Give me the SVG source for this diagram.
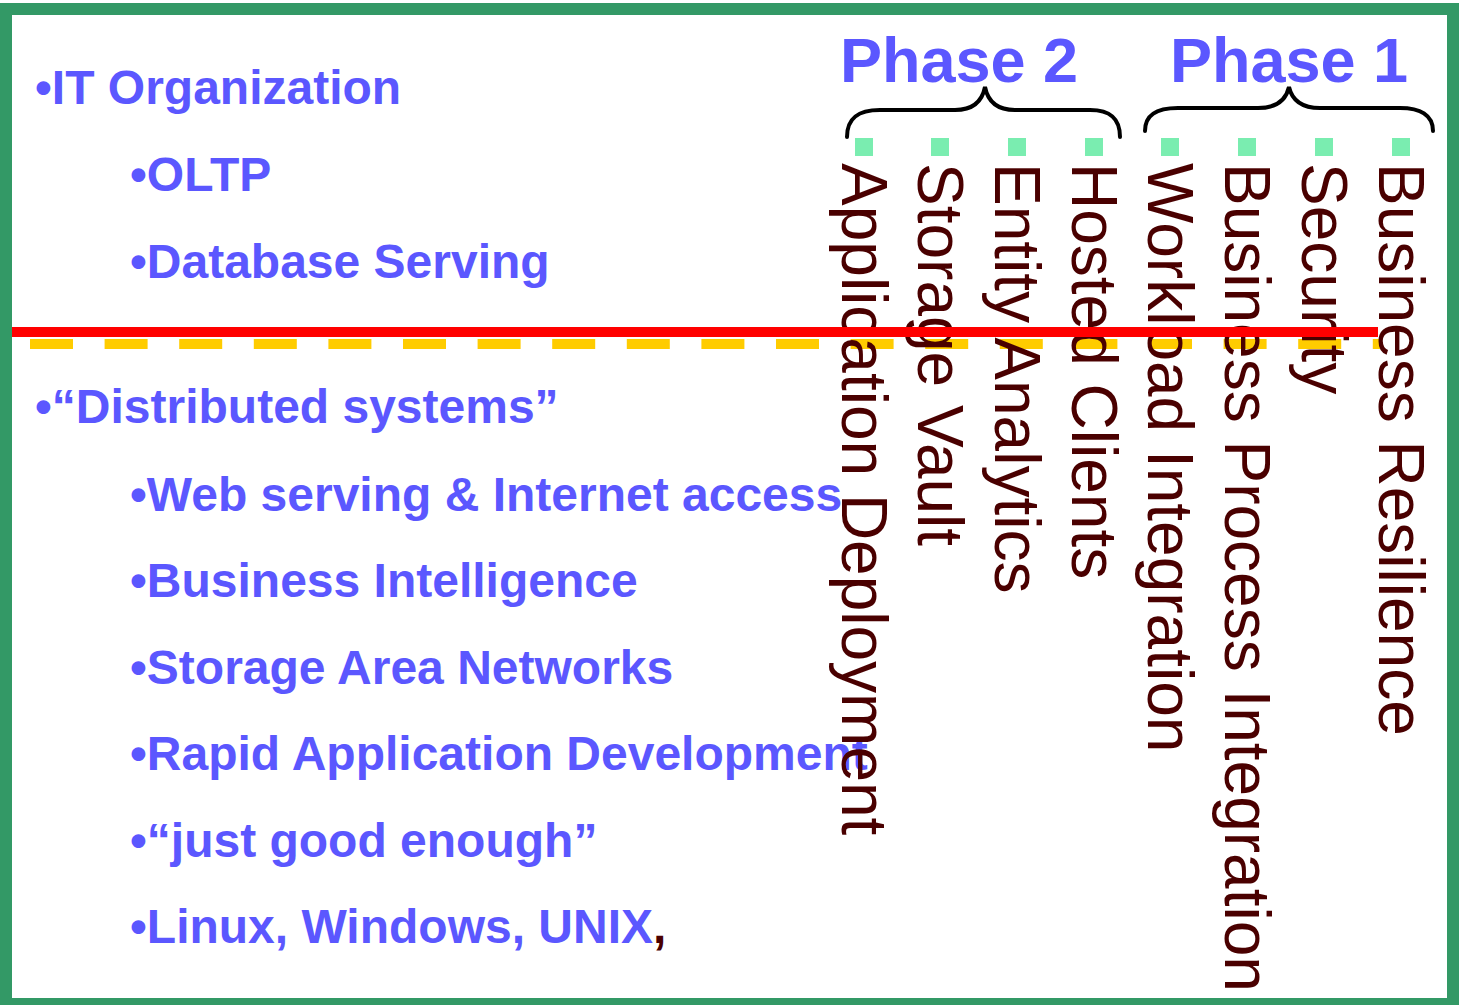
<svg xmlns="http://www.w3.org/2000/svg" width="1459" height="1005" viewBox="0 0 1459 1005">
  <style>
    .item { font-family: "Liberation Sans", Arial, sans-serif; font-weight: bold; font-size: 48px; fill: #5B57FF; }
    .phase { font-family: "Liberation Sans", Arial, sans-serif; font-weight: bold; font-size: 63px; fill: #5B57FF; }
    .col { font-family: "Liberation Sans", Arial, sans-serif; font-size: 64px; fill: #4A0000; }
    .brace { fill: none; stroke: #000; stroke-width: 4; stroke-linecap: round; }
    .dot { fill: #7AEDB0; }
  </style>

  <rect x="0" y="0" width="1459" height="1005" fill="#fff"/>
  <!-- frame -->
  <rect x="6" y="9" width="1447" height="995" fill="none" stroke="#339966" stroke-width="12"/>

  <!-- workload list -->
  <g id="list">
    <text class="item" x="35" y="104">•IT Organization</text>
    <text class="item" x="130" y="191">•OLTP</text>
    <text class="item" x="130" y="278">•Database Serving</text>
    <text class="item" x="35" y="423">•“Distributed systems”</text>
    <text class="item" x="130" y="511">•Web serving &amp; Internet access</text>
    <text class="item" x="130" y="597">•Business Intelligence</text>
    <text class="item" x="130" y="684">•Storage Area Networks</text>
    <text class="item" x="130" y="770">•Rapid Application Development</text>
    <text class="item" x="130" y="857">•“just good enough”</text>
    <text class="item" x="130" y="943">•Linux, Windows, UNIX<tspan fill="#4A0000">,</tspan></text>
  </g>

  <!-- dashed separator -->
  <g id="connectors">
    <line x1="30" y1="344" x2="1380" y2="344" stroke="#FFCC00" stroke-width="10" stroke-dasharray="43 31.6"/>
  </g>

  <!-- phase headings and braces -->
  <g id="phase2">
    <text class="phase" x="840" y="82">Phase 2</text>
    <path class="brace" d="M847,137 C847,118 858,110 880,110 L955,110 C972,110 982,102 985,87 C988,102 998,110 1015,110 L1090,110 C1110,110 1120,118 1120,137"/>
  </g>
  <g id="phase1">
    <text class="phase" x="1170" y="82">Phase 1</text>
    <path class="brace" d="M1145,131 C1145,115 1156,108 1178,108 L1258,108 C1276,108 1286,100 1289,87 C1292,100 1302,108 1320,108 L1400,108 C1420,108 1433,115 1433,131"/>
  </g>

  <!-- capability columns -->
  <g id="columns">
    <rect class="dot" x="855" y="138" width="18" height="18"/>
    <rect class="dot" x="931" y="138" width="18" height="18"/>
    <rect class="dot" x="1008" y="138" width="18" height="18"/>
    <rect class="dot" x="1085" y="138" width="18" height="18"/>
    <rect class="dot" x="1161" y="138" width="18" height="18"/>
    <rect class="dot" x="1238" y="138" width="18" height="18"/>
    <rect class="dot" x="1315" y="138" width="18" height="18"/>
    <rect class="dot" x="1392" y="138" width="18" height="18"/>

    <text class="col" transform="translate(842,163) rotate(90)">Application Deployment</text>
    <text class="col" transform="translate(918,163) rotate(90)">Storage Vault</text>
    <text class="col" transform="translate(995,163) rotate(90)">Entity Analytics</text>
    <text class="col" transform="translate(1072,163) rotate(90)">Hosted Clients</text>
    <text class="col" transform="translate(1148,163) rotate(90)">Workload Integration</text>
    <text class="col" transform="translate(1225,163) rotate(90)">Business Process Integration</text>
    <text class="col" transform="translate(1302,163) rotate(90)">Security</text>
    <text class="col" transform="translate(1379,163) rotate(90)">Business Resilience</text>
  </g>

  <!-- solid divider -->
  <line x1="12" y1="332" x2="1378" y2="332" stroke="#FF0000" stroke-width="10"/>
</svg>
